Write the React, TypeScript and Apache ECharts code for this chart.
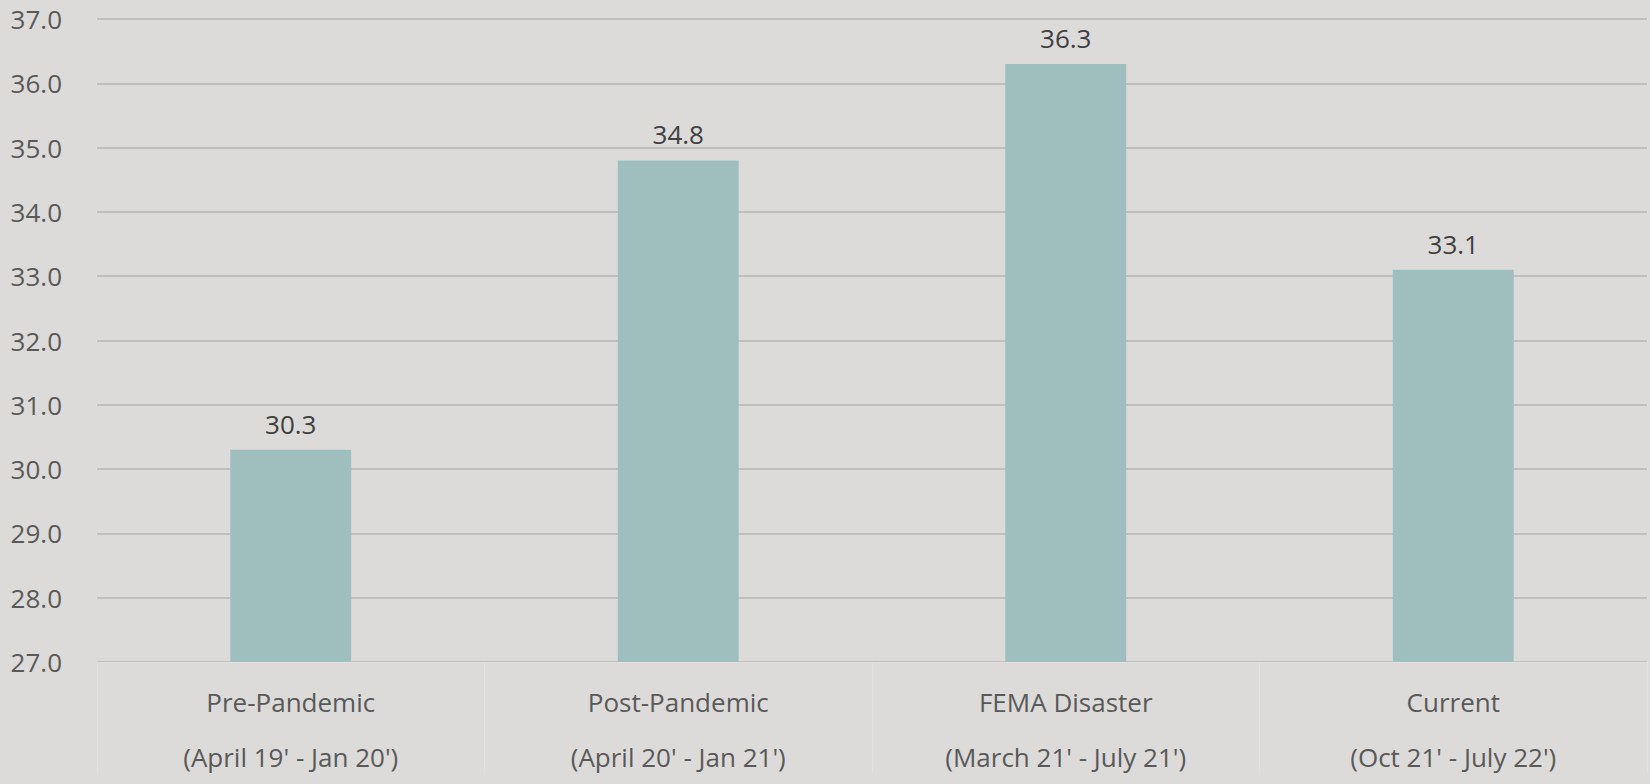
import React, { useEffect, useRef } from "react";
import * as echarts from "echarts";

const categories = [
  "Pre-Pandemic\n(April 19' - Jan 20')",
  "Post-Pandemic\n(April 20' - Jan 21')",
  "FEMA Disaster\n(March 21' - July 21')",
  "Current\n(Oct 21' - July 22')",
];
const values = [30.3, 34.8, 36.3, 33.1];
const yMin = 27;
const yMax = 37;
const yInterval = 1;

export default function App() {
  const ref = useRef<HTMLDivElement>(null);
  useEffect(() => {
    document.body.style.margin = "0";
    document.body.style.overflow = "hidden";
    const chart = echarts.init(ref.current!, null, { renderer: "svg", width: 1650, height: 784 });
    chart.setOption({
      animation: false,
      backgroundColor: "#dcdbda",
      grid: { left: 97, right: 3, top: 19, bottom: 111, containLabel: false },
      xAxis: {
        type: "category",
        data: categories,
        axisLine: { show: true, lineStyle: { color: "#e2e1e0", width: 1 } },
        axisTick: {
          show: true,
          alignWithLabel: false,
          length: 111,
          lineStyle: { color: "#e2e1e0", width: 1 },
        },
        axisLabel: {
          color: "#595959",
          fontFamily: "Open Sans",
          fontSize: 26,
          lineHeight: 55,
          margin: 12,
        },
      },
      yAxis: {
        type: "value",
        min: yMin,
        max: yMax,
        interval: yInterval,
        axisLine: { show: false },
        axisTick: { show: false },
        splitLine: { lineStyle: { color: "#c0bfbe", width: 2 } },
        axisLabel: {
          color: "#595959",
          fontFamily: "Open Sans",
          fontSize: 26,
          margin: 35,
          formatter: (v: number) => v.toFixed(1),
        },
      },
      series: [
        {
          type: "bar",
          data: values,
          barWidth: "31.2%",
          itemStyle: { color: "#9fbfbf" },
          label: {
            show: true,
            position: "top",
            distance: 13,
            color: "#404040",
            fontFamily: "Open Sans",
            fontSize: 26,
            formatter: (p: any) => p.value.toFixed(1),
          },
        },
      ],
    });
    return () => chart.dispose();
  }, []);
  return (
    <div
      ref={ref}
      style={{ position: "fixed", left: 0, top: 0, width: 1650, height: 784 }}
    />
  );
}
